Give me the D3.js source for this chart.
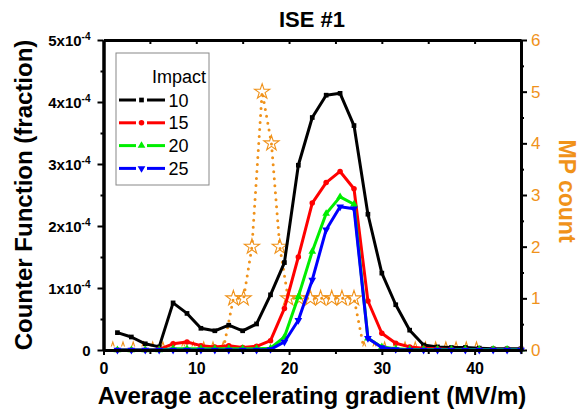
<!DOCTYPE html>
<meta charset="utf-8">
<script src="https://d3js.org/d3.v7.min.js"></script>
<style>
  body { margin: 0; background: #fff; }
  svg { font-family: "Liberation Sans", Arial, sans-serif; }
  .axis path, .axis line { stroke: #000; }
</style>
<body>
<svg id="chart" width="581" height="410"></svg>
<script>
// gradient values (MV/m) of the counter function curves
var gradient = [1.5, 3, 4.5, 6, 7.5, 9, 10.5, 12, 13.5, 15, 16.5, 18, 19.5, 21, 22.5,
                24, 25.5, 27, 28.5, 30, 31.5, 33, 34.5, 36, 37.5, 39, 40.5, 42, 43.5, 45];
// counter function, in units of 1e-4
var impact10 = [0.28, 0.21, 0.10, 0.05, 0.76, 0.59, 0.35, 0.31, 0.40, 0.31, 0.42, 0.89, 1.41, 2.98, 3.75,
                4.11, 4.14, 3.62, 2.19, 1.24, 0.73, 0.32, 0.08, 0.05, 0.04, 0.04, 0.03, 0.02, 0.02, 0.02];
var impact15 = [0, 0, 0, 0.01, 0.10, 0.13, 0.07, 0.05, 0.07, 0.04, 0.06, 0.15, 0.67, 1.50, 2.37,
                2.70, 2.88, 2.60, 0.79, 0.27, 0.11, 0.05, 0.03, 0.02, 0.01, 0.01, 0.01, 0.01, 0.01, 0.01];
var impact20 = [0, 0, 0, 0, 0.02, 0.02, 0.02, 0.02, 0.02, 0.02, 0.02, 0.03, 0.21, 0.86, 1.59,
                2.20, 2.47, 2.35, 0.19, 0.05, 0.02, 0.01, 0.01, 0.01, 0.01, 0.01, 0.01, 0.01, 0.01, 0.01];
var impact25 = [0, 0, 0, 0, 0, 0, 0, 0, 0, 0, 0, 0.01, 0.13, 0.48, 1.13,
                1.94, 2.31, 2.28, 0.19, 0.04, 0.01, 0, 0, 0, 0, 0, 0, 0, 0, 0];

// multipacting count (right axis)
var mpGradient = [1, 2.1, 3.2, 4.3, 5.3, 6.4, 7.5, 8.6, 9.7, 10.8, 11.8, 12.9,
                  14.0, 15.1, 16.0, 17.1, 18.1, 19.0, 19.9, 21.1, 22.3, 23.4, 24.6, 25.7, 27.0,
                  28.1, 29.2, 30.3, 31.4, 32.5, 33.6, 34.7, 35.8, 36.9, 38.0, 39.1, 40.2];
var mpCount = [0, 0, 0, 0, 0, 0, 0, 0, 0, 0, 0, 0,
               1, 1, 2, 5, 4, 2, 1, 1, 1, 1, 1, 1, 1,
               0, 0, 0, 0, 0, 0, 0, 0, 0, 0, 0, 0];

var impactNames = ["10", "15", "20", "25"];
var xTicks = [0, 10, 20, 30, 40];
var xMinor = [5, 15, 25, 35, 45];
var yTicks = [0, 1, 2, 3, 4, 5];          // x 1e-4
var yMinor = [0.5, 1.5, 2.5, 3.5, 4.5];
var mpTicks = [0, 1, 2, 3, 4, 5, 6];
var mpMinor = [0.5, 1.5, 2.5, 3.5, 4.5, 5.5];

var orange = "#f0921a";

var svg = d3.select("#chart");

var x = d3.scaleLinear().domain([0, 45]).range([103.5, 521]);
var y = d3.scaleLinear().domain([0, 5]).range([350, 40]);
var yR = d3.scaleLinear().domain([0, 6]).range([350, 40]);

var series = [
  { name: impactNames[0], values: impact10, color: "#000000", symbol: d3.symbolSquare, size: 22, rot: 0 },
  { name: impactNames[1], values: impact15, color: "#ff0000", symbol: d3.symbolCircle, size: 24, rot: 0 },
  { name: impactNames[2], values: impact20, color: "#00ee00", symbol: d3.symbolTriangle, size: 26, rot: 0 },
  { name: impactNames[3], values: impact25, color: "#0000ff", symbol: d3.symbolTriangle, size: 26, rot: 180 }
];

// the zero-level stars are mostly hidden behind the curves in the original
svg.append("clipPath").attr("id", "mpclip")
  .append("rect").attr("x", 90).attr("y", 0).attr("width", 440).attr("height", 346.5);

// MP count: dotted line + hollow stars (drawn under the curves)
var mp = mpGradient.map(function (g, i) { return [g, mpCount[i]]; });
var mpLayer = svg.append("g").attr("clip-path", "url(#mpclip)");
mpLayer.append("path")
  .datum(mp)
  .attr("fill", "none")
  .attr("stroke", orange)
  .attr("stroke-width", 3)
  .attr("stroke-dasharray", "0,7")
  .attr("stroke-linecap", "round")
  .attr("d", d3.line().x(function (d) { return x(d[0]); }).y(function (d) { return yR(d[1]); }));

mpLayer.append("g").selectAll("path")
  .data(mp)
  .enter().append("path")
  .attr("transform", function (d) { return "translate(" + x(d[0]) + "," + yR(d[1]) + ")"; })
  .attr("d", d3.symbol().type(d3.symbolStar).size(72))
  .attr("fill", "none")
  .attr("stroke", orange)
  .attr("stroke-width", 1.1);

// counter function curves
var line = d3.line()
  .x(function (d, i) { return x(gradient[i]); })
  .y(function (d) { return y(d); });

series.forEach(function (s) {
  var g = svg.append("g");
  g.append("path")
    .datum(s.values)
    .attr("fill", "none")
    .attr("stroke", s.color)
    .attr("stroke-width", 3)
    .attr("stroke-linejoin", "round")
    .attr("d", line);
  g.selectAll("path.m")
    .data(s.values)
    .enter().append("path")
    .attr("class", "m")
    .attr("transform", function (d, i) { return "translate(" + x(gradient[i]) + "," + y(d) + ") rotate(" + s.rot + ")"; })
    .attr("d", d3.symbol().type(s.symbol).size(s.size))
    .attr("fill", s.color);
});

// axes
var xAxis = svg.append("g").attr("class", "axis").attr("transform", "translate(0,350)")
  .call(d3.axisBottom(x).tickValues(xTicks).tickSize(5).tickPadding(8).tickSizeOuter(0));
svg.append("g").attr("class", "axis").attr("transform", "translate(0,350)")
  .call(d3.axisBottom(x).tickValues(xMinor).tickSize(4).tickFormat("").tickSizeOuter(0));
svg.append("g").attr("class", "axis").attr("transform", "translate(0,40)")
  .call(d3.axisBottom(x).tickValues(xTicks.concat(xMinor).filter(function (v) { return v > 0 && v < 45; }))
    .tickSize(4).tickFormat("").tickSizeOuter(0));

var yAxis = svg.append("g").attr("class", "axis").attr("transform", "translate(103.5,0)")
  .call(d3.axisLeft(y).tickValues(yTicks).tickSize(6).tickPadding(7).tickSizeOuter(0));
svg.append("g").attr("class", "axis").attr("transform", "translate(103.5,0)")
  .call(d3.axisLeft(y).tickValues(yMinor).tickSize(3).tickFormat("").tickSizeOuter(0));

var rAxis = svg.append("g").attr("class", "axis r").attr("transform", "translate(521,0)")
  .call(d3.axisRight(yR).tickValues(mpTicks).tickFormat(d3.format("d"))
    .tickSize(6).tickPadding(4).tickSizeOuter(0));
svg.append("g").attr("class", "axis r").attr("transform", "translate(521,0)")
  .call(d3.axisRight(yR).tickValues(mpMinor).tickSize(3).tickFormat("").tickSizeOuter(0));

svg.selectAll(".axis path.domain").attr("stroke-width", 3);
svg.selectAll(".axis .tick line").attr("stroke-width", 2);
svg.selectAll(".axis.r path, .axis.r line").attr("stroke", orange);

xAxis.selectAll("text")
  .attr("font-size", 16).attr("font-weight", "bold").attr("fill", "#000")
  .attr("font-family", "Liberation Sans, Arial, sans-serif");

yAxis.selectAll(".tick text").each(function (d) {
  var t = d3.select(this).text("")
    .attr("font-size", 15).attr("font-weight", "bold").attr("fill", "#000")
    .attr("font-family", "Liberation Sans, Arial, sans-serif")
    .attr("dy", "0.36em");
  if (d === 0) { t.text("0"); return; }
  t.append("tspan").text(d + "x10");
  t.append("tspan").attr("font-size", 10).attr("dy", "-0.6em").text("-4");
});

rAxis.selectAll("text")
  .attr("font-size", 17).attr("fill", orange)
  .attr("font-family", "Liberation Sans, Arial, sans-serif");

// titles
svg.append("text")
  .attr("x", 312).attr("y", 27)
  .attr("text-anchor", "middle")
  .attr("font-size", 22).attr("font-weight", "bold")
  .text("ISE #1");

svg.append("text")
  .attr("x", 312).attr("y", 404)
  .attr("text-anchor", "middle")
  .attr("font-size", 24).attr("font-weight", "bold")
  .text("Average accelerating gradient (MV/m)");

svg.append("text")
  .attr("transform", "translate(32,195) rotate(-90)")
  .attr("text-anchor", "middle")
  .attr("font-size", 24).attr("font-weight", "bold")
  .text("Counter Function (fraction)");

svg.append("text")
  .attr("transform", "translate(559,191) rotate(90)")
  .attr("text-anchor", "middle")
  .attr("font-size", 23).attr("font-weight", "bold")
  .attr("fill", orange)
  .text("MP count");

// legend
var legend = svg.append("g");
legend.append("rect")
  .attr("x", 116).attr("y", 53).attr("width", 93).attr("height", 132)
  .attr("fill", "#fff").attr("stroke", "#888").attr("stroke-width", 1);
legend.append("text")
  .attr("x", 152).attr("y", 83)
  .attr("font-size", 18)
  .text("Impact");

series.forEach(function (s, i) {
  var ly = 100 + i * 22.8;
  var row = legend.append("g");
  row.append("line").attr("x1", 119).attr("x2", 136).attr("y1", ly).attr("y2", ly)
    .attr("stroke", s.color).attr("stroke-width", 3);
  row.append("line").attr("x1", 147).attr("x2", 165).attr("y1", ly).attr("y2", ly)
    .attr("stroke", s.color).attr("stroke-width", 3);
  row.append("path")
    .attr("transform", "translate(141.5," + ly + ") rotate(" + s.rot + ")")
    .attr("d", d3.symbol().type(s.symbol).size(s.size))
    .attr("fill", s.color);
  row.append("text")
    .attr("x", 168.5).attr("y", ly + 6.5)
    .attr("font-size", 18)
    .text(s.name);
});
</script>
</body>
